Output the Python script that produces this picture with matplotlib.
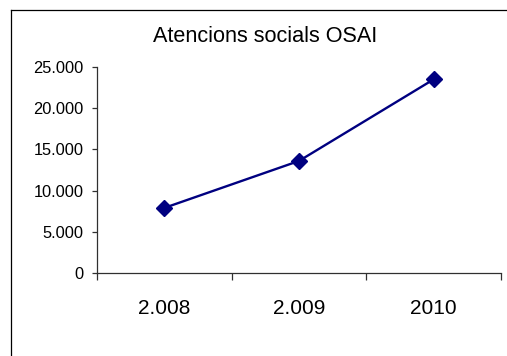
"""Atencions socials OSAI: line chart with diamond markers."""

import matplotlib

matplotlib.use("Agg")
import matplotlib.pyplot as plt
from matplotlib.lines import Line2D
from matplotlib.ticker import FixedLocator, FuncFormatter

YEARS = ["2.008", "2.009", "2010"]
ATTENTIONS = [7900, 13600, 23500]
Y_TICKS = [0, 5000, 10000, 15000, 20000, 25000]
TITLE = "Atencions socials OSAI"

plt.rcParams["font.family"] = ["Liberation Sans", "DejaVu Sans"]

W, H = 507, 356
fig = plt.figure(figsize=(W / 100, H / 100), dpi=100)
fig.patch.set_facecolor("white")

# outer frame, cut off at the right and bottom like the screenshot
fig.add_artist(Line2D([10.5 / W, 10.5 / W], [0, 1 - 9.5 / H], transform=fig.transFigure,
                      color="black", linewidth=0.9))
fig.add_artist(Line2D([10.5 / W, 1], [1 - 9.5 / H, 1 - 9.5 / H], transform=fig.transFigure,
                      color="black", linewidth=0.9))

ax = fig.add_axes([97 / W, 83 / H, (501 - 97) / W, (273 - 67) / H])
x = list(range(len(YEARS)))
ax.plot(x, ATTENTIONS, color="#000080", linewidth=1.7, marker="D", markersize=8,
        markeredgecolor="#000080", markerfacecolor="#000080", clip_on=False)

ax.set_xlim(-0.5, len(YEARS) - 0.5)
ax.set_ylim(0, 25000)
ax.set_yticks(Y_TICKS)
ax.yaxis.set_major_formatter(FuncFormatter(lambda v, _: f"{int(v):,}".replace(",", ".")))

# category boundaries carry the ticks, labels sit at the centres
ax.xaxis.set_major_locator(FixedLocator([i - 0.5 for i in range(len(YEARS) + 1)]))
ax.xaxis.set_major_formatter(FuncFormatter(lambda v, _: ""))
ax.set_xticks(x, minor=True)
ax.set_xticklabels(YEARS, minor=True, fontsize=15)
ax.tick_params(axis="x", which="major", length=5, width=0.9, color="#303030", direction="out")
ax.tick_params(axis="x", which="minor", length=0, pad=19)
ax.tick_params(axis="y", length=3.5, width=0.9, color="#303030", pad=6, labelsize=11.8)

for side in ("top", "right"):
    ax.spines[side].set_visible(False)
for side in ("left", "bottom"):
    ax.spines[side].set_color("#303030")
    ax.spines[side].set_linewidth(0.9)

fig.text(265 / W, 1 - 37 / H, TITLE, ha="center", va="center", fontsize=15.6)

fig.savefig("out.png", dpi=100)
